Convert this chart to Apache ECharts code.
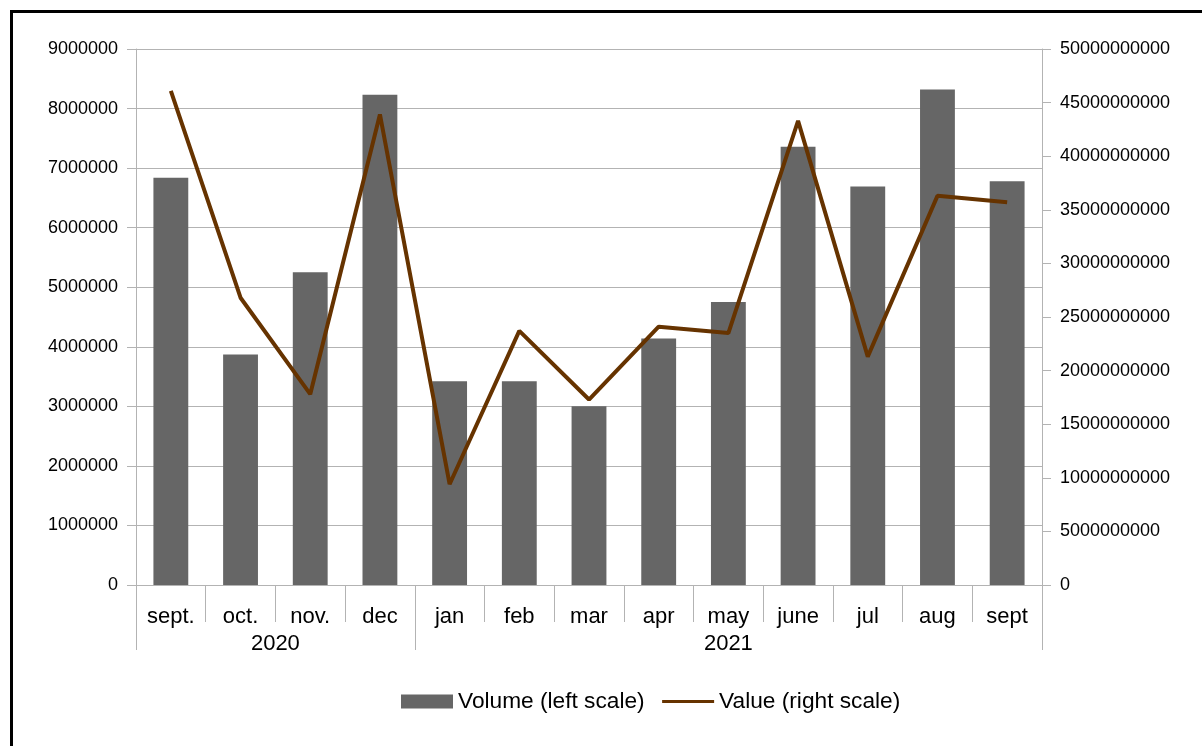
<!DOCTYPE html>
<html>
<head>
<meta charset="utf-8">
<script src="https://cdn.jsdelivr.net/npm/echarts@6/dist/echarts.min.js"></script>
<style>
html,body{margin:0;padding:0;background:#fff;}
#chart{width:1202px;height:746px;}
</style>
</head>
<body>
<div id="chart"></div>
<script>
// ---- data ----
const months = ['sept.', 'oct.', 'nov.', 'dec', 'jan', 'feb', 'mar', 'apr', 'may', 'june', 'jul', 'aug', 'sept'];
const years = ['2020', '2021'];
const yearSpans = [4, 9]; // number of months under each year
const volume = [6840000, 3870000, 5250000, 8230000, 3420000, 3420000, 3000000, 4140000, 4750000, 7360000, 6690000, 8320000, 6780000];
const value = [46100000000, 26800000000, 17800000000, 43900000000, 9400000000, 23700000000, 17300000000, 24100000000, 23500000000, 43300000000, 21300000000, 36300000000, 35700000000];
const leftTicks = { min: 0, max: 9000000, interval: 1000000 };
const rightTicks = { min: 0, max: 50000000000, interval: 5000000000 };

// year group boundaries and centres (in category units)
const yearBounds = [0];
yearSpans.forEach(s => yearBounds.push(yearBounds[yearBounds.length - 1] + s));
const yearCenters = yearSpans.map((s, i) => yearBounds[i] + s / 2);

const FONT = 'Liberation Sans, Arial, sans-serif';
const GRID_C = '#b3b3b3';
const plain = v => String(Math.round(v));

const chart = echarts.init(document.getElementById('chart'), null, { renderer: 'canvas' });
chart.setOption({
  animation: false,
  backgroundColor: '#fff',
  textStyle: { fontFamily: FONT },
  graphic: [{
    type: 'rect',
    shape: { x: 11.5, y: 11.5, width: 1260, height: 800 },
    style: { fill: 'none', stroke: '#000', lineWidth: 3 },
    silent: true
  }],
  grid: { left: 136, right: 160, top: 49, bottom: 161, containLabel: false },
  legend: {
    top: 685,
    left: 396,
    itemWidth: 52,
    itemHeight: 14,
    itemGap: 16,
    textStyle: { fontSize: 22.7, color: '#000', fontFamily: FONT },
    data: [
      { name: 'Volume (left scale)', icon: 'rect' },
      { name: 'Value (right scale)', itemStyle: { opacity: 0 }, lineStyle: { width: 3 } }
    ]
  },
  xAxis: [
    {
      type: 'category',
      data: months,
      position: 'bottom',
      boundaryGap: true,
      axisLine: { show: true, lineStyle: { color: GRID_C, width: 1 } },
      axisTick: { show: true, interval: 0, length: 37, lineStyle: { color: GRID_C } },
      axisLabel: { interval: 0, fontSize: 22, color: '#000', margin: 21, fontFamily: FONT },
      splitLine: { show: false }
    },
    {
      type: 'value',
      min: 0,
      max: months.length,
      position: 'bottom',
      axisLine: { show: false },
      axisTick: { show: true, customValues: yearBounds, length: 65, lineStyle: { color: GRID_C } },
      axisLabel: {
        show: true,
        customValues: yearCenters,
        margin: 48,
        fontSize: 22,
        color: '#000',
        fontFamily: FONT,
        formatter: function (v) {
          const i = yearCenters.indexOf(v);
          return i >= 0 ? years[i] : '';
        }
      },
      splitLine: { show: false }
    }
  ],
  yAxis: [
    {
      type: 'value',
      position: 'left',
      min: leftTicks.min, max: leftTicks.max, interval: leftTicks.interval,
      axisLine: { show: true, lineStyle: { color: GRID_C } },
      axisTick: { show: true, length: 9, lineStyle: { color: GRID_C } },
      axisLabel: { fontSize: 18, color: '#000', margin: 18, fontFamily: FONT, formatter: plain },
      splitLine: { show: true, lineStyle: { color: GRID_C, width: 1 } }
    },
    {
      type: 'value',
      position: 'right',
      min: rightTicks.min, max: rightTicks.max, interval: rightTicks.interval,
      axisLine: { show: true, lineStyle: { color: GRID_C } },
      axisTick: { show: true, length: 9, lineStyle: { color: GRID_C } },
      axisLabel: { fontSize: 18, color: '#000', margin: 18, fontFamily: FONT, formatter: plain },
      splitLine: { show: false }
    }
  ],
  series: [
    {
      name: 'Volume (left scale)',
      type: 'bar',
      xAxisIndex: 0,
      yAxisIndex: 0,
      data: volume,
      barWidth: '50%',
      itemStyle: { color: '#666666' }
    },
    {
      name: 'Value (right scale)',
      type: 'line',
      xAxisIndex: 0,
      yAxisIndex: 1,
      data: value,
      symbol: 'none',
      lineStyle: { color: '#663300', width: 4 },
      itemStyle: { color: '#663300' }
    }
  ]
});
</script>
</body>
</html>
